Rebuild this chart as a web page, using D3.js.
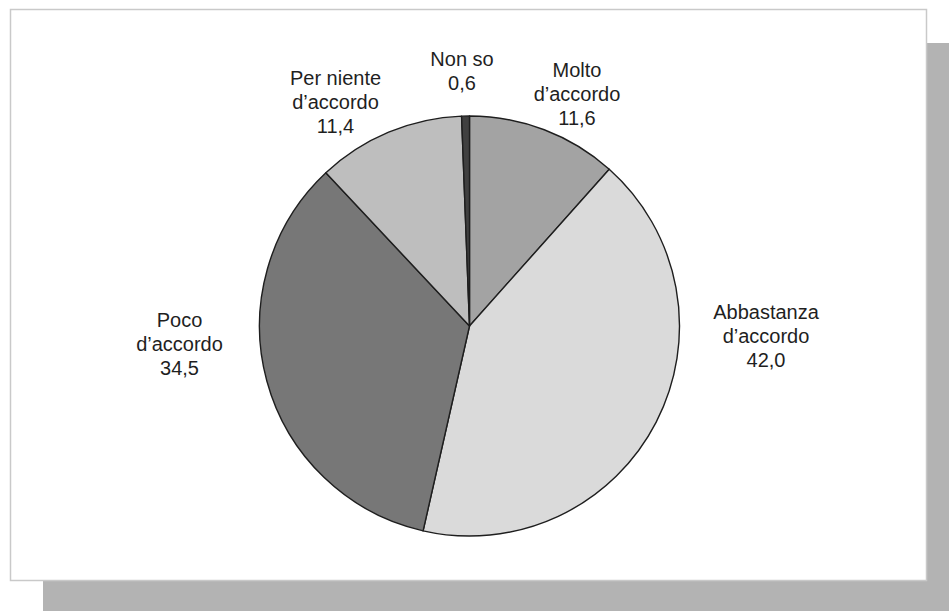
<!DOCTYPE html>
<html>
<head>
<meta charset="utf-8">
<script src="https://cdn.jsdelivr.net/npm/d3@7"></script>
<style>
  html, body { margin: 0; padding: 0; background: #ffffff; }
  svg { display: block; }
</style>
</head>
<body>
<svg id="chart" width="949" height="611"></svg>
<script>
// Survey answers, clockwise from 12 o'clock
const categories = ["Molto\nd’accordo", "Abbastanza\nd’accordo", "Poco\nd’accordo", "Per niente\nd’accordo", "Non so"];
const values = [11.6, 42.0, 34.5, 11.4, 0.6];
const valueLabels = ["11,6", "42,0", "34,5", "11,4", "0,6"];

// Layout of the slices and their labels
const sliceFills = ["#a3a3a3", "#dadada", "#777777", "#bebebe", "#404040"];
// first-line baseline of each label block, relative to the pie centre
const labelOffsets = [[107.5, -249], [296.5, -7], [-290, 1], [-134, -241], [-7.5, -260]];

const svg = d3.select("#chart");
const W = 949, H = 611;

// drop shadow and framed panel
svg.append("rect").attr("x", 43).attr("y", 43).attr("width", W - 43).attr("height", H - 43).attr("fill", "#b3b3b3");
svg.append("rect").attr("x", 10.5).attr("y", 9.5).attr("width", 916).attr("height", 571)
  .attr("fill", "#ffffff").attr("stroke", "#c9c9c9").attr("stroke-width", 1.5);

const cx = 469.5, cy = 326, radius = 210;
const g = svg.append("g").attr("transform", `translate(${cx},${cy})`);

const data = categories.map((c, i) => ({ name: c, value: values[i], label: valueLabels[i], i }));
const pie = d3.pie().value(d => d.value).sort(null).startAngle(0).endAngle(2 * Math.PI);
const arc = d3.arc().innerRadius(0).outerRadius(radius);

g.selectAll("path.slice")
  .data(pie(data))
  .join("path")
  .attr("class", "slice")
  .attr("d", arc)
  .attr("fill", d => sliceFills[d.data.i])
  .attr("stroke", "#1e1e1e")
  .attr("stroke-width", 1.4)
  .attr("stroke-linejoin", "round");

const lineH = 23.8;
const labels = g.selectAll("text.lbl")
  .data(data)
  .join("text")
  .attr("class", "lbl")
  .attr("text-anchor", "middle")
  .attr("font-family", "'Liberation Sans', Arial, sans-serif")
  .attr("font-size", 20)
  .attr("fill", "#1f1f1f")
  .attr("transform", d => `translate(${labelOffsets[d.i][0]},${labelOffsets[d.i][1]})`);

labels.each(function(d) {
  const lines = d.name.split("\n").concat([d.label]);
  d3.select(this).selectAll("tspan")
    .data(lines)
    .join("tspan")
    .attr("x", 0)
    .attr("y", (t, k) => k * lineH)
    .text(t => t);
});
</script>
</body>
</html>
